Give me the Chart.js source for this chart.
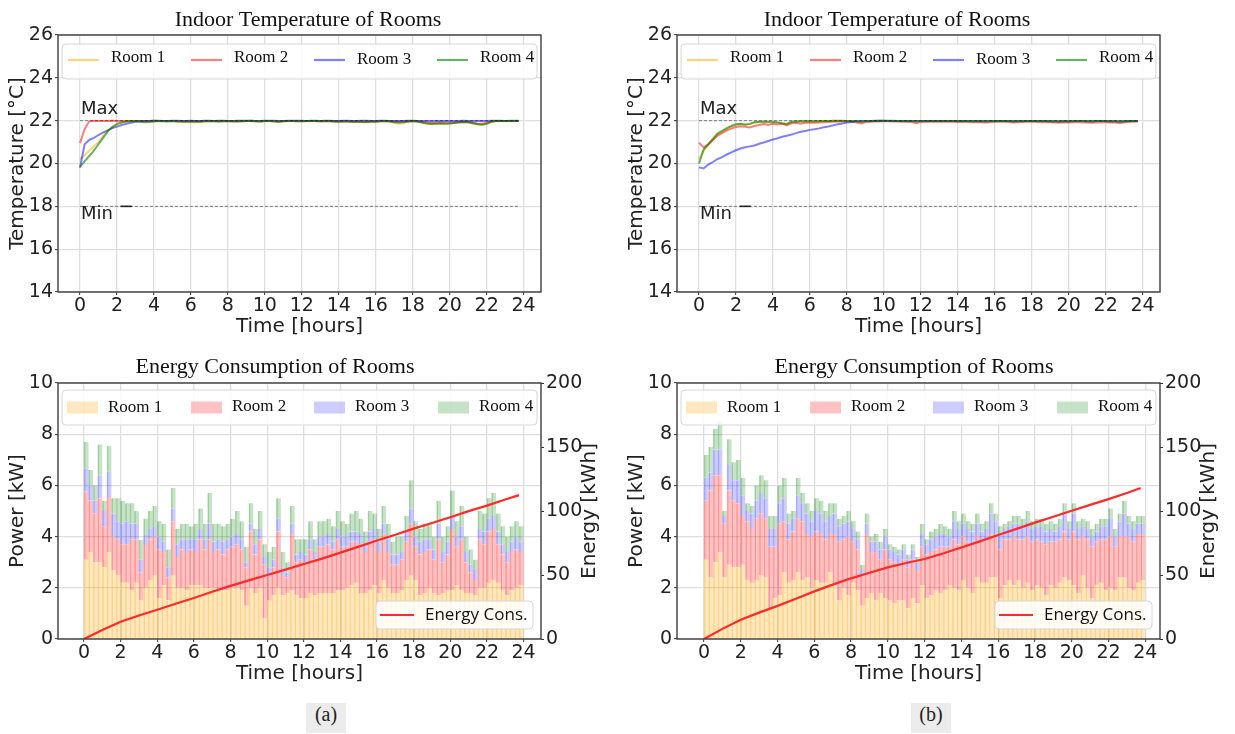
<!DOCTYPE html>
<html>
<head>
<meta charset="utf-8">
<script src="https://cdn.jsdelivr.net/npm/chart.js@4.4.1/dist/chart.umd.min.js"></script>
<style>
  html, body { margin: 0; padding: 0; background: #fff; }
  body { position: relative; width: 1235px; height: 734px; overflow: hidden; }
  .pane { position: absolute; }
  .pane canvas { display: block; }
  .cap { position: absolute; top: 703px; width: 40px; height: 30px; line-height: 30px;
         background: #ececec; color: #222; text-align: center;
         font: 20px "Liberation Serif", "Times New Roman", serif; }
</style>
</head>
<body>
<div class="pane" style="left:0;top:0"><canvas id="tempA" width="615" height="345"></canvas></div>
<div class="pane" style="left:619px;top:0"><canvas id="tempB" width="616" height="345"></canvas></div>
<div class="pane" style="left:0;top:345px"><canvas id="energyA" width="615" height="345"></canvas></div>
<div class="pane" style="left:619px;top:345px"><canvas id="energyB" width="616" height="345"></canvas></div>
<div class="cap" style="left:306px">(a)</div>
<div class="cap" style="left:911px">(b)</div>

<script>
// ---------- axes ----------
const HOUR_TICKS = [0, 2, 4, 6, 8, 10, 12, 14, 16, 18, 20, 22, 24];
const TEMP_TICKS = [14, 16, 18, 20, 22, 24, 26];
const POWER_TICKS = [0, 2, 4, 6, 8, 10];
const ENERGY_TICKS = [0, 50, 100, 150, 200];

// 15-minute time steps over one day
const STEP_H = 0.25;
const HOURS = Array.from({ length: 96 }, (_, i) => i * STEP_H);

const ROOM_NAMES = ['Room 1', 'Room 2', 'Room 3', 'Room 4'];

// comfort band
const LIMIT_MAX = 22;
const LIMIT_MIN = 18;
const LIMIT_SPAN = [0, 23.75];
const MIN_MARK_SPAN = [2.2, 2.8];

// ---------- (a) indoor temperature [°C] ----------
const TEMP_A_ROOM1 = [20.2,20.4,20.6,20.8,21.0,21.3,21.55,21.7,21.83,21.9,21.95,21.97,
  21.98,21.97,21.95,21.96,21.98,21.99,21.98,21.97,21.98,21.96,21.94,21.93,
  21.93,21.92,21.94,21.96,21.97,21.96,21.95,21.96,21.97,21.95,21.94,21.96,
  21.97,21.98,21.96,21.95,21.97,21.98,21.96,21.94,21.96,21.97,21.98,21.97,
  21.96,21.97,21.98,21.97,21.96,21.98,21.97,21.95,21.94,21.96,21.95,21.94,
  21.95,21.93,21.92,21.94,21.93,21.96,21.97,21.95,21.9,21.86,21.88,21.95,
  21.97,21.95,21.9,21.87,21.86,21.87,21.88,21.86,21.87,21.89,21.92,21.93,
  21.92,21.88,21.84,21.82,21.86,21.95,21.98,21.97,21.97,21.98,21.97,21.98];
const TEMP_A_ROOM2 = [20.95,21.6,21.97,22.0,21.99,21.98,21.99,22.0,21.99,21.98,21.98,21.99,
  21.99,21.98,21.98,21.99,22.0,21.99,21.98,21.99,21.98,21.97,21.98,21.99,
  21.99,21.98,21.97,21.98,21.99,21.98,21.98,21.99,21.98,21.97,21.98,21.99,
  21.99,22.0,21.98,21.97,21.98,21.99,21.97,21.96,21.98,21.99,21.99,21.98,
  21.98,21.99,21.99,21.98,21.97,21.99,21.98,21.97,21.97,21.98,21.97,21.96,
  21.97,21.96,21.96,21.97,21.97,21.98,21.99,21.98,21.96,21.95,21.96,21.97,
  21.98,21.97,21.94,21.91,21.89,21.9,21.91,21.9,21.9,21.92,21.94,21.95,
  21.94,21.9,21.87,21.86,21.9,21.96,21.98,21.98,21.98,21.99,21.98,21.98];
const TEMP_A_ROOM3 = [19.8,20.9,21.1,21.2,21.33,21.45,21.55,21.65,21.72,21.8,21.85,21.9,
  21.95,21.97,21.98,21.99,22.0,22.0,21.99,21.99,22.0,22.0,21.99,21.99,
  22.0,21.99,21.99,22.0,22.0,21.99,22.0,22.0,21.99,21.99,22.0,22.0,
  22.0,22.0,21.99,21.99,22.0,22.0,22.0,21.99,21.99,22.0,22.0,22.0,
  22.0,21.99,22.0,22.0,21.99,22.0,22.0,21.99,21.99,22.0,22.0,21.99,
  21.99,22.0,22.0,21.99,21.99,22.0,22.0,21.99,21.99,21.98,21.99,22.0,
  22.0,21.99,21.98,21.98,21.97,21.98,21.98,21.98,21.99,21.99,21.99,22.0,
  21.99,21.98,21.98,21.98,21.99,22.0,22.0,22.0,21.99,22.0,22.0,22.0];
const TEMP_A_ROOM4 = [19.85,20.1,20.35,20.6,20.9,21.2,21.5,21.7,21.85,21.92,21.96,21.98,
  21.97,21.95,21.93,21.94,21.96,21.98,21.97,21.96,21.98,21.97,21.95,21.96,
  21.95,21.96,21.95,21.97,21.98,21.97,21.96,21.97,21.98,21.97,21.96,21.97,
  21.98,21.99,21.97,21.96,21.98,21.99,21.97,21.95,21.97,21.98,21.98,21.97,
  21.97,21.98,21.99,21.98,21.97,21.98,21.97,21.96,21.95,21.96,21.96,21.95,
  21.96,21.94,21.94,21.95,21.95,21.97,21.98,21.96,21.93,21.91,21.93,21.96,
  21.98,21.96,21.91,21.87,21.85,21.86,21.87,21.86,21.87,21.89,21.92,21.94,
  21.93,21.88,21.83,21.81,21.85,21.95,21.98,21.98,21.98,21.99,21.98,21.98];

// ---------- (b) indoor temperature [°C] ----------
const TEMP_B_ROOM1 = [20.2,20.6,20.85,21.1,21.35,21.48,21.6,21.72,21.8,21.84,21.8,21.84,
  21.92,21.93,21.93,21.92,21.92,21.9,21.86,21.84,21.93,21.94,21.95,21.95,
  21.96,21.95,21.96,21.97,21.98,21.98,21.98,21.99,21.98,21.97,21.96,21.94,
  21.96,21.97,21.98,21.98,21.99,21.99,21.98,21.98,21.97,21.97,21.96,21.95,
  21.97,21.97,21.98,21.97,21.97,21.98,21.97,21.97,21.96,21.97,21.97,21.96,
  21.96,21.95,21.96,21.97,21.97,21.98,21.97,21.96,21.95,21.95,21.96,21.97,
  21.98,21.97,21.96,21.96,21.95,21.96,21.96,21.97,21.96,21.96,21.97,21.97,
  21.96,21.96,21.97,21.97,21.96,21.96,21.97,21.96,21.96,21.97,21.98,21.98];
const TEMP_B_ROOM2 = [20.97,20.75,20.9,21.1,21.3,21.42,21.55,21.63,21.7,21.74,21.72,21.68,
  21.75,21.8,21.84,21.8,21.85,21.82,21.86,21.78,21.88,21.9,21.86,21.9,
  21.92,21.9,21.92,21.93,21.94,21.95,21.96,21.96,21.96,21.95,21.93,21.87,
  21.92,21.95,21.96,21.96,21.97,21.97,21.96,21.96,21.95,21.95,21.94,21.88,
  21.94,21.95,21.96,21.95,21.95,21.96,21.95,21.95,21.94,21.95,21.94,21.93,
  21.94,21.93,21.91,21.93,21.94,21.96,21.95,21.94,21.92,21.93,21.94,21.95,
  21.96,21.94,21.93,21.94,21.93,21.92,21.9,21.93,21.92,21.93,21.94,21.92,
  21.91,21.9,21.92,21.93,21.93,21.92,21.91,21.88,21.92,21.94,21.95,21.96];
const TEMP_B_ROOM3 = [19.82,19.77,19.95,20.07,20.2,20.3,20.42,20.52,20.62,20.7,20.76,20.8,
  20.84,20.92,20.98,21.05,21.12,21.18,21.25,21.3,21.35,21.42,21.48,21.52,
  21.57,21.6,21.64,21.69,21.73,21.78,21.83,21.87,21.91,21.94,21.96,21.97,
  21.98,21.99,21.99,22.0,22.0,21.99,21.99,21.99,21.98,21.99,21.99,21.98,
  21.98,21.99,21.99,21.98,21.98,21.99,21.98,21.98,21.98,21.99,21.99,21.98,
  21.98,21.98,21.97,21.98,21.98,21.99,21.99,21.98,21.97,21.98,21.98,21.99,
  21.99,21.98,21.98,21.98,21.97,21.97,21.96,21.98,21.97,21.98,21.98,21.98,
  21.97,21.97,21.98,21.98,21.98,21.97,21.97,21.96,21.97,21.98,21.99,21.99];
const TEMP_B_ROOM4 = [20.0,20.65,20.9,21.15,21.4,21.52,21.65,21.75,21.83,21.86,21.82,21.85,
  21.93,21.95,21.95,21.95,21.95,21.92,21.88,21.85,21.95,21.96,21.97,21.97,
  21.98,21.97,21.98,21.99,21.99,22.0,22.0,22.0,21.99,21.99,21.98,21.96,
  21.98,21.99,22.0,22.0,22.0,22.0,22.0,21.99,21.99,21.99,21.98,21.97,
  21.98,21.99,21.99,21.99,21.98,21.99,21.99,21.98,21.98,21.98,21.98,21.97,
  21.98,21.97,21.97,21.98,21.98,21.99,21.99,21.98,21.97,21.97,21.98,21.98,
  21.99,21.98,21.98,21.98,21.97,21.97,21.97,21.98,21.97,21.98,21.98,21.98,
  21.97,21.97,21.98,21.98,21.98,21.97,21.97,21.96,21.97,21.98,21.99,21.99];

// ---------- (a) power per room [kW], one value per 15 min ----------
const POWER_A_ROOM1 = [3.1,3.4,3.0,3.0,2.8,3.4,2.7,2.5, 2.2,2.2,1.9,2.2,1.5,2.0,2.3,2.5,
  1.6,2.1,1.5,2.5,2.0,2.0,1.9,2.1, 2.1,2.1,2.0,2.0,2.0,1.9,1.9,1.9,
  2.0,2.0,1.9,1.3,2.0,1.8,2.0,0.8, 1.5,1.7,2.0,1.7,1.8,1.9,1.7,1.6,
  1.6,1.8,1.7,1.8,1.8,1.8,1.8,1.9, 1.9,2.0,2.1,2.2,1.8,1.8,1.9,2.1,
  1.8,2.3,2.0,1.8,1.8,1.9,2.3,2.5, 2.3,1.7,1.8,2.0,1.8,1.7,1.8,1.9,
  1.9,2.1,1.9,1.8,1.8,1.7,2.0,2.0, 2.2,2.3,2.2,1.9,1.7,1.9,2.0,2.1];
const POWER_A_ROOM2 = [2.65,2.0,1.9,2.5,1.6,2.15,1.3,1.4, 1.5,1.5,2.0,1.7,1.1,1.67,1.6,1.5,
  1.9,1.3,0.9,2.1,1.2,1.5,1.5,1.4, 1.3,1.8,1.5,1.9,1.4,1.6,1.4,1.6,
  1.6,1.7,1.6,1.5,2.2,1.5,1.9,2.1, 1.0,1.1,2.2,0.8,0.6,2.2,1.3,1.5,
  1.4,1.7,1.4,1.8,1.8,1.9,1.7,2.0, 1.7,1.6,1.7,1.6,1.9,1.6,1.9,1.8,
  1.6,1.8,1.4,1.1,1.1,1.2,1.5,2.0, 1.3,1.6,1.6,1.5,1.3,2.2,1.2,1.4,
  2.4,1.5,2.0,1.2,0.8,0.6,1.9,1.7, 2.0,2.0,1.5,1.4,1.3,1.5,1.5,1.3];
const POWER_A_ROOM3 = [0.92,0.6,0.5,0.9,0.6,1.0,0.9,0.7, 0.8,0.9,0.6,0.6,0.5,0.39,0.4,0.4,
  0.5,0.4,0.4,0.5,0.5,0.4,0.5,0.4, 0.5,0.4,0.4,0.6,0.4,0.4,0.5,0.4,
  0.4,0.4,0.4,0.2,0.3,0.4,0.4,0.3, 0.3,0.3,0.5,0.3,0.2,0.4,0.3,0.3,
  0.3,0.4,0.3,0.4,0.4,0.4,0.3,0.4, 0.4,0.4,0.4,0.4,0.4,0.3,0.4,0.4,
  0.4,0.4,0.5,0.4,0.4,0.3,0.4,0.6, 0.4,0.5,0.5,0.4,0.4,0.6,0.4,0.5,
  0.5,0.4,0.5,0.4,0.3,0.4,0.4,0.5, 0.5,0.5,0.5,0.4,0.4,0.4,0.5,0.4];
const POWER_A_ROOM4 = [1.03,0.6,0.6,1.2,0.4,1.0,0.6,0.9, 0.9,0.7,0.8,0.5,0.77,0.64,0.7,0.8,
  0.6,0.7,0.7,0.8,0.6,0.6,0.6,0.5, 0.6,0.8,0.6,1.2,0.7,0.6,0.6,0.6,
  0.7,0.9,0.7,0.6,0.8,0.6,0.7,0.5, 0.6,0.5,0.8,0.6,0.4,0.7,0.6,0.5,
  0.6,0.7,0.5,0.6,0.6,0.6,0.6,0.7, 0.6,0.5,0.7,0.8,0.6,0.5,0.8,0.6,
  0.5,0.7,0.6,0.5,0.7,0.6,0.6,1.1, 0.6,0.5,0.6,0.6,0.5,0.9,0.6,0.6,
  1.0,0.6,0.8,0.6,0.6,0.4,0.7,0.7, 0.8,0.9,0.7,0.7,0.6,0.6,0.6,0.6];

// ---------- (b) power per room [kW] ----------
const POWER_B_ROOM1 = [3.1,2.4,3.0,3.4,2.4,2.9,2.8,2.8, 2.9,2.3,2.2,2.3,2.5,2.4,1.2,1.6,
  1.7,2.6,2.2,2.3,2.6,2.3,2.4,2.0, 2.3,2.2,2.2,2.6,2.1,1.5,2.0,1.7,
  2.2,1.9,1.3,1.6,1.8,1.5,1.8,1.6, 1.5,1.4,1.5,1.5,1.2,1.6,1.4,2.1,
  1.6,1.7,1.9,1.8,1.9,2.1,2.0,1.9, 2.3,2.0,1.8,2.4,2.2,2.2,2.4,2.4,
  1.6,2.1,2.3,2.1,2.3,2.0,2.2,1.9, 2.1,2.0,1.7,2.1,2.0,2.2,2.4,2.3,
  2.1,1.8,2.5,2.0,1.6,2.1,2.2,1.9, 2.0,1.9,2.4,2.4,2.0,1.9,2.2,2.3];
const POWER_B_ROOM2 = [2.3,3.4,3.4,3.0,2.1,2.9,2.6,2.5, 1.9,2.3,2.1,2.4,2.4,2.3,2.4,2.0,
  2.8,2.0,1.7,1.9,2.1,2.3,1.7,2.0, 1.9,1.9,1.7,1.5,2.0,2.3,1.9,2.3,
  1.6,1.6,1.2,2.5,1.6,1.9,1.3,1.9, 1.6,1.6,1.4,1.6,1.6,1.5,1.3,1.5,
  1.7,1.7,1.6,1.8,1.7,1.5,1.9,1.8, 1.7,1.8,1.9,1.6,1.6,1.7,1.7,1.6,
  1.9,1.8,1.6,1.9,1.6,1.9,1.8,1.9, 1.8,1.8,2.0,1.7,1.8,1.7,1.8,1.6,
  2.1,2.1,1.5,1.9,2.0,1.7,1.7,2.0, 2.0,1.7,1.6,1.6,2.0,1.9,1.9,1.8];
const POWER_B_ROOM3 = [0.9,0.7,1.0,1.0,0.3,1.0,0.8,0.9, 0.8,0.4,0.6,0.7,0.8,0.8,0.7,0.7,
  0.8,0.9,0.6,0.5,0.9,0.7,0.8,0.6, 0.8,0.8,0.7,0.7,0.8,0.6,0.6,0.6,
  0.5,0.4,0.2,0.4,0.4,0.4,0.4,0.5, 0.4,0.4,0.4,0.4,0.3,0.4,0.3,0.5,
  0.4,0.5,0.5,0.5,0.5,0.4,0.7,0.6, 0.5,0.5,0.5,0.5,0.4,0.4,0.8,0.6,
  0.6,0.4,0.5,0.5,0.6,0.5,0.6,0.5, 0.5,0.6,0.5,0.5,0.4,0.5,0.7,0.4,
  0.7,0.4,0.4,0.4,0.4,0.4,0.5,0.5, 0.7,0.4,0.6,0.9,0.5,0.5,0.4,0.4];
const POWER_B_ROOM4 = [0.9,1.0,0.8,1.1,0.2,1.0,0.7,0.8, 0.7,0.3,0.3,0.6,0.7,0.7,0.5,0.5,
  0.7,0.8,0.4,0.3,0.7,0.4,0.4,0.4, 0.5,0.5,0.4,0.5,0.4,0.3,0.3,0.4,
  0.3,0.3,0.2,0.4,0.2,0.3,0.3,0.3, 0.2,0.2,0.2,0.2,0.2,0.2,0.2,0.4,
  0.2,0.3,0.3,0.4,0.3,0.3,0.4,0.3, 0.4,0.3,0.3,0.4,0.3,0.3,0.4,0.3,
  0.3,0.2,0.2,0.3,0.3,0.3,0.4,0.3, 0.3,0.3,0.3,0.3,0.3,0.3,0.4,0.3,
  0.4,0.3,0.3,0.3,0.3,0.3,0.3,0.3, 0.4,0.3,0.3,0.5,0.3,0.3,0.3,0.3];

// ---------- cumulative energy [kWh] ----------
const ENERGY_HOURS = [0,1,2,3,4,5,6,7,8,9,10,11,12,13,14,15,16,17,18,19,20,21,22,23,23.75];
const ENERGY_A = [0,7.0,13.5,18.4,22.9,27.5,32.0,36.9,41.5,45.8,50.0,54.2,58.6,62.8,67.5,72.2,
  77.0,81.4,86.2,90.6,95.1,99.9,104.2,109.0,112.4];
const ENERGY_B = [0,7.9,15.0,20.6,25.9,31.4,37.2,42.5,47.4,51.8,56.0,59.4,62.5,66.8,71.5,76.3,
  81.3,86.0,90.9,95.5,100.2,104.8,109.3,114.0,118.0];

// ---------- styling ----------
const LINE_COLORS = ['rgba(255,165,0,0.5)', 'rgba(255,0,0,0.5)', 'rgba(0,0,255,0.5)', 'rgba(0,128,0,0.6)'];
const BAR_COLORS = ['rgba(255,165,0,0.25)', 'rgba(255,0,0,0.24)', 'rgba(0,0,255,0.2)', 'rgba(0,128,0,0.22)'];
const BAR_EDGES = ['rgba(255,165,0,0.4)', 'rgba(255,0,0,0.32)', 'rgba(0,0,255,0.28)', 'rgba(0,128,0,0.3)'];
const INK = '#222';
const SANS = '"DejaVu Sans", sans-serif';
const SERIF = '"Liberation Serif", "Times New Roman", serif';
const GRID = '#dedede';

// draws the axes frame, panel title, in-plot legends and text labels
const panelDeco = {
  id: 'panelDeco',
  afterDraw(chart, _args, o) {
    const ctx = chart.ctx;
    const a = chart.chartArea;
    ctx.save();
    ctx.strokeStyle = '#3c3c3c';
    ctx.lineWidth = 1.4;
    ctx.strokeRect(a.left, a.top, a.right - a.left, a.bottom - a.top);

    if (o.title) {
      ctx.fillStyle = '#111';
      ctx.font = '22px ' + SERIF;
      ctx.textAlign = 'center';
      ctx.textBaseline = 'middle';
      ctx.fillText(o.title.text, o.title.x, o.title.y);
    }

    (o.labels || []).forEach(l => {
      const px = chart.scales.x.getPixelForValue(l.at[0]) + l.dx;
      const py = chart.scales.y.getPixelForValue(l.at[1]) + l.dy;
      ctx.fillStyle = INK;
      ctx.font = l.size + 'px ' + SANS;
      ctx.textAlign = 'left';
      ctx.textBaseline = 'middle';
      ctx.fillText(l.text, px, py);
    });

    (o.legends || []).forEach(L => {
      const [bx, by, bw, bh] = L.box;
      ctx.beginPath();
      ctx.roundRect(bx, by, bw, bh, 4);
      ctx.fillStyle = 'rgba(255,255,255,0.85)';
      ctx.fill();
      ctx.strokeStyle = '#d6d6d6';
      ctx.lineWidth = 1;
      ctx.stroke();
      L.items.forEach((it, k) => {
        const ds = chart.data.datasets[it.ds];
        const sx = L.sampleX[k];
        if (L.kind === 'line') {
          ctx.strokeStyle = ds.borderColor;
          ctx.lineWidth = 2.2;
          ctx.beginPath();
          ctx.moveTo(sx, L.sampleY);
          ctx.lineTo(sx + L.sampleW, L.sampleY);
          ctx.stroke();
        } else {
          ctx.fillStyle = ds.backgroundColor;
          ctx.fillRect(sx, L.sampleY - L.sampleH / 2, L.sampleW, L.sampleH);
        }
        ctx.fillStyle = '#111';
        ctx.font = L.font;
        ctx.textAlign = 'left';
        ctx.textBaseline = 'middle';
        ctx.fillText(ds.label, sx + L.textGap, L.textY + (it.dy || 0));
      });
    });

    if (o.rightTitle) {
      ctx.save();
      ctx.translate(a.right + o.rightTitle.dx, (a.top + a.bottom) / 2);
      ctx.rotate(-Math.PI / 2);
      ctx.fillStyle = INK;
      ctx.font = '20px ' + SANS;
      ctx.textAlign = 'center';
      ctx.textBaseline = 'middle';
      ctx.fillText(o.rightTitle.text, 0, 0);
      ctx.restore();
    }
    ctx.restore();
  }
};
Chart.register(panelDeco);

function setTicks(values) {
  return scale => { scale.ticks = values.map(v => ({ value: v })); };
}

function xAxis(min, max, height, titlePadBottom) {
  return {
    type: 'linear', min, max, offset: false,
    afterBuildTicks: setTicks(HOUR_TICKS),
    afterFit: s => { s.height = height; },
    grid: { offset: false, color: GRID, lineWidth: 1.3, drawTicks: true, tickLength: 3, tickColor: '#333', tickWidth: 1 },
    border: { display: false },
    ticks: { color: INK, font: { family: SANS, size: 19, lineHeight: 1 }, padding: 2, maxRotation: 0, autoSkip: false },
    title: { display: true, text: 'Time [hours]', color: INK, font: { family: SANS, size: 20, lineHeight: 1.2 },
             padding: { top: 0, bottom: titlePadBottom } }
  };
}

function yAxis(min, max, ticks, title) {
  return {
    type: 'linear', position: 'left', min, max,
    afterBuildTicks: setTicks(ticks),
    afterFit: s => { s.width = 58; },
    grid: { color: GRID, lineWidth: 1.3, drawTicks: true, tickLength: 3, tickColor: '#333', tickWidth: 1 },
    border: { display: false },
    ticks: { color: INK, font: { family: SANS, size: 19, lineHeight: 1 }, padding: 2 },
    title: { display: true, text: title, color: INK, font: { family: SANS, size: 20, lineHeight: 1.2 },
             padding: { top: 6, bottom: 0 } }
  };
}

function tempChart(id, series, titleX) {
  const rooms = series.map((vals, r) => ({
    label: ROOM_NAMES[r],
    data: HOURS.map((h, i) => ({ x: h, y: vals[i] })),
    borderColor: LINE_COLORS[r],
    borderWidth: 2,
    pointRadius: 0,
    tension: 0,
    order: 4 - r
  }));
  const limit = v => ({
    label: '',
    data: LIMIT_SPAN.map(h => ({ x: h, y: v })),
    borderColor: 'rgba(0,0,0,0.45)',
    borderWidth: 1,
    borderDash: [3, 2],
    pointRadius: 0,
    order: 0
  });
  const mark = {
    label: '',
    data: MIN_MARK_SPAN.map(h => ({ x: h, y: LIMIT_MIN })),
    borderColor: '#2a2a2a',
    borderWidth: 1.6,
    pointRadius: 0,
    order: 0
  };
  return new Chart(document.getElementById(id), {
    type: 'line',
    data: { datasets: [...rooms, limit(LIMIT_MAX), limit(LIMIT_MIN), mark] },
    options: {
      responsive: false, animation: false, devicePixelRatio: 1,
      layout: { padding: { left: 0, top: 35, right: id === 'tempA' ? 74 : 75, bottom: 0 } },
      scales: {
        x: xAxis(-1.19, 24.94, 53, 6),
        y: yAxis(14, 26, TEMP_TICKS, 'Temperature [°C]')
      },
      plugins: {
        legend: { display: false },
        tooltip: { enabled: false },
        panelDeco: {
          title: { text: 'Indoor Temperature of Rooms', x: titleX, y: 20 },
          labels: [
            { text: 'Max', at: [0, LIMIT_MAX], dx: 1, dy: -11, size: 18 },
            { text: 'Min', at: [0, LIMIT_MIN], dx: 1, dy: 8, size: 18 }
          ],
          legends: [{
            kind: 'line', box: [62, 44, 475, 35],
            items: [{ ds: 0 }, { ds: 1 }, { ds: 2, dy: 2 }, { ds: 3 }],
            sampleX: [68, 191, 314, 437], sampleY: 60, sampleW: 31,
            textGap: 43, textY: 58, font: '17px ' + SERIF
          }]
        }
      }
    }
  });
}

function energyChart(id, power, energy, xMin, xMax, titleX) {
  const bars = power.map((vals, r) => ({
    type: 'bar',
    label: ROOM_NAMES[r],
    data: HOURS.map((h, i) => ({ x: h + STEP_H / 2, y: vals[i] })),
    backgroundColor: BAR_COLORS[r],
    borderColor: BAR_EDGES[r],
    borderWidth: { left: 1, right: 0, top: 0, bottom: 0 },
    borderSkipped: false,
    categoryPercentage: 1,
    barPercentage: 1,
    yAxisID: 'y',
    order: 1
  }));
  const line = {
    type: 'line',
    label: 'Energy Cons.',
    data: ENERGY_HOURS.map((h, i) => ({ x: h, y: energy[i] })),
    borderColor: '#ff2a2a',
    borderWidth: 2.2,
    pointRadius: 0,
    tension: 0,
    yAxisID: 'y2',
    order: 0
  };
  const x = xAxis(xMin, xMax, 51, 4);
  x.stacked = true;
  const y = yAxis(0, 10, POWER_TICKS, 'Power [kW]');
  y.stacked = true;
  return new Chart(document.getElementById(id), {
    data: { datasets: [...bars, line] },
    options: {
      responsive: false, animation: false, devicePixelRatio: 1,
      layout: { padding: { left: 0, top: 38, right: 0, bottom: 0 } },
      scales: {
        x, y,
        y2: {
          type: 'linear', position: 'right', min: 0, max: 200,
          afterBuildTicks: setTicks(ENERGY_TICKS),
          afterFit: s => { s.width = id === 'energyA' ? 74 : 75; },
          grid: { drawOnChartArea: false, drawTicks: true, tickLength: 3, tickColor: '#333', tickWidth: 1 },
          border: { display: false },
          ticks: { color: INK, font: { family: SANS, size: 19, lineHeight: 1 }, padding: 2 }
        }
      },
      plugins: {
        legend: { display: false },
        tooltip: { enabled: false },
        panelDeco: {
          title: { text: 'Energy Consumption of Rooms', x: titleX, y: 22 },
          rightTitle: { text: 'Energy [kWh]', dx: 49 },
          legends: [{
            kind: 'patch', box: [62, 45, 475, 35],
            items: [{ ds: 0, dy: 1.5 }, { ds: 1 }, { ds: 2 }, { ds: 3 }],
            sampleX: [67, 191, 314, 438], sampleY: 62.5, sampleW: 31, sampleH: 12,
            textGap: 41, textY: 61.5, font: '17px ' + SERIF
          }, {
            kind: 'line', box: [376, 256, 157, 28],
            items: [{ ds: 4 }],
            sampleX: [380], sampleY: 270, sampleW: 34,
            textGap: 45, textY: 270, font: '17px "Open Sans", ' + SANS
          }]
        }
      }
    }
  });
}

tempChart('tempA', [TEMP_A_ROOM1, TEMP_A_ROOM2, TEMP_A_ROOM3, TEMP_A_ROOM4], 308);
tempChart('tempB', [TEMP_B_ROOM1, TEMP_B_ROOM2, TEMP_B_ROOM3, TEMP_B_ROOM4], 278);
energyChart('energyA', [POWER_A_ROOM1, POWER_A_ROOM2, POWER_A_ROOM3, POWER_A_ROOM4], ENERGY_A, -1.42, 24.95, 275);
energyChart('energyB', [POWER_B_ROOM1, POWER_B_ROOM2, POWER_B_ROOM3, POWER_B_ROOM4], ENERGY_B, -1.47, 24.8, 295);
</script>
</body>
</html>
